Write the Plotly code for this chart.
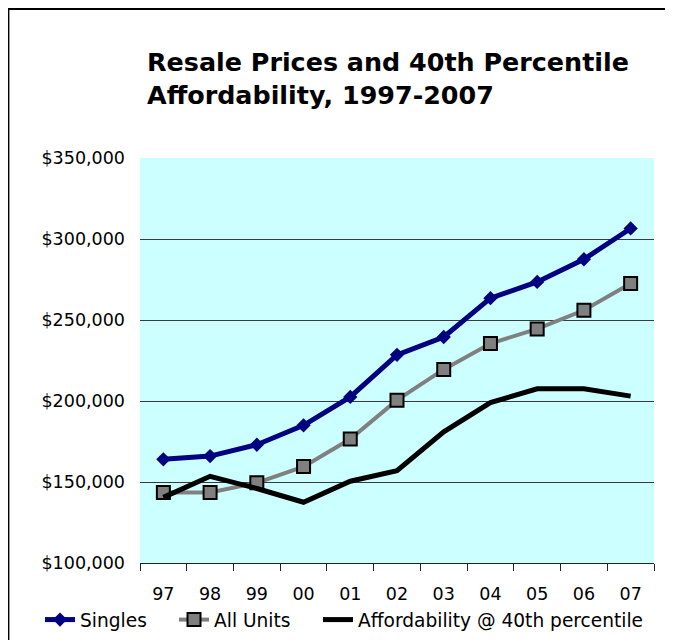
import plotly.graph_objects as go

years = ["97", "98", "99", "00", "01", "02", "03", "04", "05", "06", "07"]
singles = [164000, 166000, 173000, 185000, 202500, 228500, 239500, 263500, 273500, 287500, 306500]
all_units = [143500, 143500, 149500, 159500, 176500, 200500, 219500, 235500, 244500, 256000, 272500]
afford = [140500, 153500, 146000, 137500, 150500, 157000, 181000, 199000, 207500, 207500, 203000]

FONT = "DejaVu Sans"
W, H = 665, 632            # page body has an 8px margin
PL, PR, PT, PB = 132, 19, 150, 77
PW = W - PL - PR           # 514
PH = H - PT - PB           # 405


def px_x(sx):  # screen x -> paper x
    return (sx - 8 - PL) / PW


def px_y(sy):  # screen y -> paper y
    return (H - PB - (sy - 8)) / PH


fig = go.Figure()
fig.add_trace(go.Scatter(
    x=years, y=singles, name="Singles", mode="lines+markers",
    line=dict(color="#000080", width=5),
    marker=dict(symbol="diamond", size=11, color="#000080", line=dict(width=0)),
    legend="legend",
))
fig.add_trace(go.Scatter(
    x=years, y=all_units, name="All Units", mode="lines+markers",
    line=dict(color="#808080", width=4),
    marker=dict(symbol="square", size=13, color="#808080", line=dict(color="#000000", width=2)),
    legend="legend2",
))
fig.add_trace(go.Scatter(
    x=years, y=afford, name="Affordability @ 40th percentile", mode="lines",
    line=dict(color="#000000", width=5),
    legend="legend3",
))

leg_common = dict(
    orientation="h", xref="paper", yref="paper", xanchor="left", yanchor="middle",
    y=px_y(620), font=dict(family=FONT, size=18.6, color="#000000"),
    bgcolor="rgba(0,0,0,0)", borderwidth=0,
)

fig.update_layout(
    width=W, height=H,
    margin=dict(l=PL, r=PR, t=PT, b=PB, autoexpand=False),
    paper_bgcolor="white",
    plot_bgcolor="#CCFFFF",
    font=dict(family=FONT, size=17, color="#000000"),
    title=dict(
        text="<b>Resale Prices and 40th Percentile<br>Affordability, 1997-2007</b>",
        font=dict(family=FONT, size=25.4, color="#000000"),
        xref="container", yref="container",
        x=139 / W, xanchor="left",
        y=1 - 63 / H, yanchor="top",
    ),
    showlegend=True,
    legend=dict(leg_common, x=px_x(40)),
    legend2=dict(leg_common, x=px_x(174)),
    legend3=dict(leg_common, x=px_x(318)),
    xaxis=dict(
        type="category",
        showgrid=False,
        showline=True, linecolor="#222222", linewidth=1,
        ticks="outside", ticklen=7, tickcolor="#222222", tickwidth=1,
        tickson="boundaries",
        tickfont=dict(family=FONT, size=17.5),
        ticklabelstandoff=15,
        range=[-0.5, 10.5],
        fixedrange=True,
    ),
    yaxis=dict(
        range=[100000, 350000],
        dtick=50000, tick0=100000,
        tickprefix="$", tickformat=",.0f",
        showgrid=True, gridcolor="#3a3a3a", gridwidth=1,
        zeroline=False, showline=False,
        ticks="", ticklabelstandoff=14,
        tickfont=dict(family=FONT, size=17.5),
        fixedrange=True,
    ),
    shapes=[
        dict(type="line", xref="paper", yref="paper",
             x0=px_x(7), x1=px_x(720), y0=px_y(8.7), y1=px_y(8.7),
             line=dict(color="#000000", width=2.6), layer="above"),
        dict(type="line", xref="paper", yref="paper",
             x0=px_x(8.3), x1=px_x(8.3), y0=px_y(7.4), y1=px_y(720),
             line=dict(color="#000000", width=2.2), layer="above"),
    ],
)

fig.write_html("out.html", config={"displayModeBar": False})
